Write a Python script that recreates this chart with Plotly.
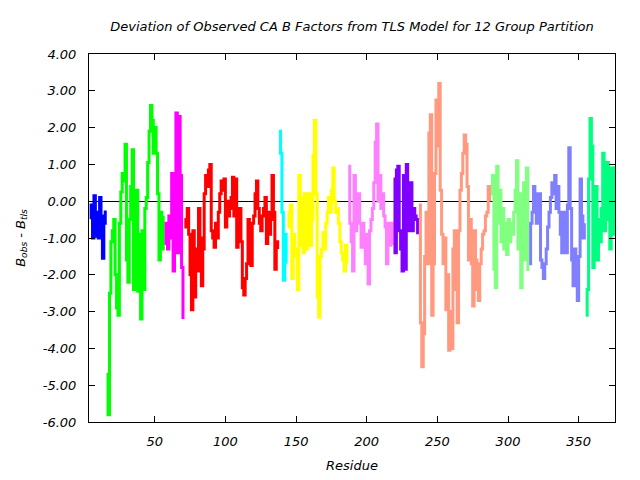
import plotly.graph_objects as go

# residue ranges and deviations (B_obs - B_tls) for each TLS group
group_starts = [4, 16, 57, 71, 138, 144, 187, 219, 237, 288, 315, 355]

group_colors = ["#0000ff", "#00ff00", "#ff00ff", "#ff0000", "#00ffff", "#ffff00",
                "#ff80ff", "#8000ff", "#ff9980", "#80ff80", "#8080ff", "#00ff80"]

g1 = [-0.45, -0.1, -1.0, 0.15, -0.95, -0.3, -1.0, 0.1, -0.4, -1.55, -0.6, -0.25]

g2 = [-4.7, -5.8, -2.5, -1.1, -0.8, -0.5, -2.0, -2.9, -3.1, -0.6, 0.25, 0.75, 0.55,
      1.55, -1.6, -2.2, -0.5, 0.4, 1.4, -2.4, -0.9, 0.3, -2.45, -0.9, -3.2, -0.8,
      -2.4, -0.2, 0.1, 1.05, 1.9, 2.6, 2.2, 1.3, 2.0, 1.3, 0.2, -1.6, -0.3, -1.3, -0.4]

g3 = [-1.15, -0.6, -1.3, -0.4, -1.0, 0.75, -1.9, 0.3, 2.4, -1.4, 2.3, 0.7, -1.8, -3.2]

g4 = [-0.5, -0.7, -0.2, -0.9, -2.0, -2.95, -0.8, -2.6, -1.3, -1.9, -0.2, -1.0, -2.3,
      -1.3, 0.2, 0.7, 0.4, 0.85, 1.0, -0.8, -1.0, -1.25, -0.6, -1.0, -0.3, 0.2, 0.55,
      0.3, 0.6, -0.7, 0.0, -0.4, -0.2, 0.1, 0.65, -0.4, 0.6, -1.25, -0.3, -0.2, -1.1,
      -2.35, -2.55, -2.1, -1.7, -0.5, -1.3, -1.75, -0.6, -0.4, 0.2, 0.55, -0.2, -0.6,
      -0.8, -0.4, -0.2, 0.1, -1.15, -0.3, -0.9, -0.5, 0.7, -0.3, -1.85, -1.1, -1.3]

g5 = [1.9, 1.3, -0.3, -2.15, -0.9, -1.7]

g6 = [-0.3, -0.7, -0.1, -2.1, -0.9, -1.5, -1.3, -2.4, 0.7, -1.2, 0.1, -1.4, 0.2, -1.3,
      -0.1, 0.2, -1.2, -0.5, 1.25, 2.2, 0.2, -2.6, -3.15, -1.5, -1.3, -0.85, -1.3,
      -0.6, -0.3, 0.1, -0.3, 0.3, 0.9, 0.0, -0.3, -0.2, -0.6, -1.1, -1.4, -1.6, -1.9,
      -1.2, -1.7]

g7 = [0.95, -0.6, -1.1, -1.9, 0.7, -0.8, 0.0, 0.2, -0.6, -1.25, -0.6, -1.0, -1.7,
      -0.9, -2.25, -0.8, -0.5, -0.2, 0.5, 1.6, 2.1, 0.0, 0.7, -0.2, 0.2, -0.4, -0.7,
      -1.7, -0.6, -1.2, -0.6, -1.2]

g8 = [0.6, -1.4, 0.85, 0.95, -0.8, -1.3, -1.9, 0.7, -1.85, 1.0, 0.4, -0.8, 0.5, -0.8,
      -0.2, -0.4, -0.5, -0.9]

g9 = [-0.1, -3.3, -4.5, -3.6, -1.5, -0.3, -1.7, 1.85, 2.35, -3.1, -1.7, 0.75, 2.75,
      1.5, 3.2, 0.3, -0.9, -1.7, -1.0, -2.95, -2.0, -4.05, -3.0, -4.0, -1.3, -0.8,
      -2.4, -3.3, -0.8, 0.3, 0.75, 1.3, 1.8, 1.55, 0.4, -1.6, -0.5, -1.7, -2.85, -0.8,
      -1.6, -2.4, -2.7, -1.7, -1.3, -0.9, -0.8, -0.4, -0.3, 0.4, 0.0]

g10 = [0.2, 0.7, -1.85, -2.35, 0.95, -0.6, 0.3, -1.1, -0.2, -1.3, -0.6, -1.45, -0.5,
       -1.1, -0.6, -0.9, -0.3, 0.3, 1.1, -1.3, 0.2, -2.35, -0.4, 0.5, -1.6, 0.9, -1.9]

g11 = [-1.7, -0.6, -0.3, 0.4, 0.2, -0.6, -0.5, 0.2, -1.6, -1.8, -2.1, -1.7, -1.3, -0.7,
       -0.3, 0.1, 0.5, 0.2, 0.7, -0.2, 0.4, -0.3, -0.9, -1.4, -0.3, -0.7, -1.4, -0.1,
       1.45, -0.2, -1.6, -2.3, -1.3, -2.2, -2.7, -1.5, 0.6, -0.4, -1.0, -0.6]

g12 = [-3.1, -2.4, 0.6, 2.25, 1.5, -1.8, -1.3, 0.4, -1.6, -0.5, -1.1, -0.2, 1.3, -0.8,
       -0.2, 1.05, -0.5, -1.3, 0.9, -0.9, 0.95]

groups = [g1, g2, g3, g4, g5, g6, g7, g8, g9, g10, g11, g12]

y_ticks = [-6, -5, -4, -3, -2, -1, 0, 1, 2, 3, 4]
x_ticks = [50, 100, 150, 200, 250, 300, 350]

fig = go.Figure()

for start, vals, color in zip(group_starts, groups, group_colors):
    residues = list(range(start, start + len(vals)))
    fig.add_trace(go.Scatter(x=residues, y=vals, mode='lines',
                             line=dict(color=color, width=3, shape='hv')))

font = dict(family="DejaVu Sans", size=13, color="black")

# page body has an 8px margin, so the margins are shifted to compensate
fig.update_layout(
    title=dict(text="<i>Deviation of Observed CA B Factors from TLS Model for 12 Group Partition</i>",
               xref='paper', x=0.5, xanchor='center', y=0.961, yanchor='middle',
               font=dict(family="DejaVu Sans", size=13, color="black")),
    showlegend=False,
    width=640, height=480,
    paper_bgcolor='white', plot_bgcolor='white',
    margin=dict(l=78, r=33, t=46, b=66),
    font=font,
    xaxis=dict(range=[3.5, 375.7], tickvals=x_ticks,
               ticktext=["<i>%d</i>" % v for v in x_ticks],
               ticks='inside', ticklen=6, tickcolor='black', ticklabelstandoff=7,
               showline=True, linecolor='black', linewidth=1, mirror='ticks',
               showgrid=False, zeroline=False,
               title=dict(text="<i>Residue</i>", standoff=13,
                          font=dict(family="DejaVu Sans", size=13))),
    yaxis=dict(range=[-6, 4], tickvals=y_ticks,
               ticktext=["<i>%.2f</i>" % v for v in y_ticks],
               ticks='inside', ticklen=6, tickcolor='black', ticklabelstandoff=9,
               showline=True, linecolor='black', linewidth=1, mirror='ticks',
               showgrid=False, zeroline=True, zerolinecolor='black', zerolinewidth=1,
               title=dict(text="<i>B<sub>obs</sub> - B<sub>tls</sub></i>", standoff=14,
                          font=dict(family="DejaVu Sans", size=13))),
)

fig.write_html("out.html")
